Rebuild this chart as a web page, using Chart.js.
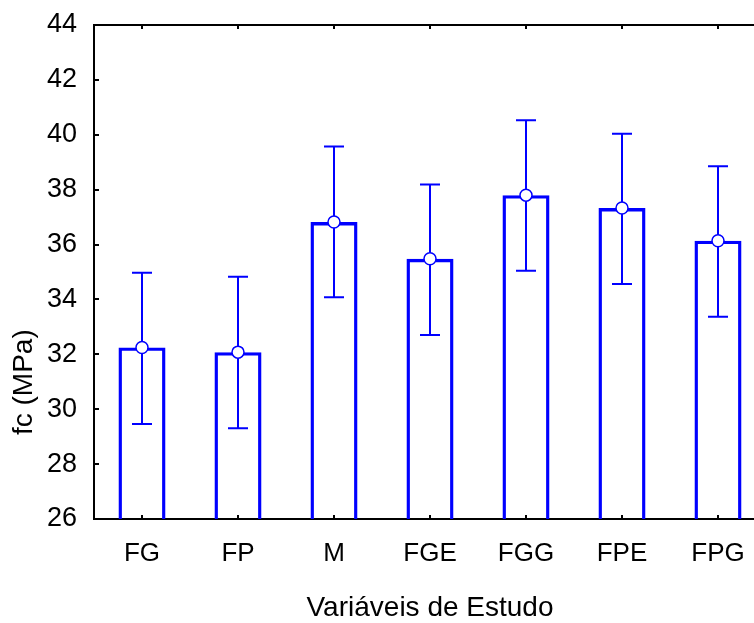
<!DOCTYPE html>
<html>
<head>
<meta charset="utf-8">
<script src="https://cdn.jsdelivr.net/npm/chart.js@4/dist/chart.umd.min.js"></script>
<style>
  html, body { margin: 0; padding: 0; background: #fff; overflow: hidden; width: 754px; height: 623px; }
  canvas { display: block; }
</style>
</head>
<body>
<canvas id="chart" width="790" height="623"></canvas>
<script>
// Chart data
const categories = ['FG', 'FP', 'M', 'FGE', 'FGG', 'FPE', 'FPG'];
const means = [32.25, 32.08, 36.82, 35.48, 37.8, 37.33, 36.14];
const upper = [34.97, 34.83, 39.57, 38.19, 40.53, 40.04, 38.85];
const lower = [29.46, 29.31, 34.08, 32.70, 35.05, 34.56, 33.37];
const yTicks = [26, 28, 30, 32, 34, 36, 38, 40, 42, 44];

const BLUE = '#0000ff';
const FONT = "'Liberation Sans', Arial, sans-serif";

// whiskers, drawn right after the bars so the circles sit on top
const errorBars = {
    id: 'errorBars',
    afterDatasetDraw(chart, args) {
        if (args.meta.type !== 'bar') return;
        const { ctx, scales: { x, y } } = chart;
        ctx.save();
        ctx.strokeStyle = BLUE;
        ctx.lineWidth = 2;
        categories.forEach((c, i) => {
            const px = x.getPixelForValue(i);
            const top = y.getPixelForValue(upper[i]);
            const bot = y.getPixelForValue(lower[i]);
            ctx.beginPath();
            ctx.moveTo(px, top); ctx.lineTo(px, bot);
            ctx.moveTo(px - 10, top); ctx.lineTo(px + 10, top);
            ctx.moveTo(px - 10, bot); ctx.lineTo(px + 10, bot);
            ctx.stroke();
        });
        ctx.restore();
    }
};

// y axis title sits below the middle of the axis in the original
const yTitle = {
    id: 'yTitle',
    afterDraw(chart) {
        const { ctx, chartArea } = chart;
        ctx.save();
        ctx.translate(24, chartArea.top + (chartArea.bottom - chartArea.top) * 0.723);
        ctx.rotate(-Math.PI / 2);
        ctx.font = '28px ' + FONT;
        ctx.fillStyle = '#000';
        ctx.textAlign = 'center';
        ctx.textBaseline = 'middle';
        ctx.fillText('fc (MPa)', 0, 0);
        ctx.restore();
    }
};

new Chart(document.getElementById('chart').getContext('2d'), {
    data: {
        labels: categories,
        datasets: [
            {
                type: 'line',
                label: 'mean',
                data: means,
                order: 0,
                showLine: false,
                borderColor: BLUE,
                pointRadius: 6,
                pointBorderWidth: 1.5,
                pointBackgroundColor: '#ffffff',
                pointBorderColor: BLUE,
            },
            {
                type: 'bar',
                label: 'fc',
                data: means,
                order: 1,
                backgroundColor: 'rgba(255,255,255,0)',
                borderColor: BLUE,
                borderWidth: 3.4,
                borderSkipped: false,
                barPercentage: 0.49,
                categoryPercentage: 1,
            }
        ]
    },
    options: {
        responsive: false,
        animation: false,
        layout: { padding: { left: 0, top: 25, right: 24, bottom: 0 } },
        plugins: {
            legend: { display: false },
            tooltip: { enabled: false },
        },
        scales: {
            x: {
                type: 'category',
                position: 'bottom',
                offset: true,
                z: 1,
                grid: { offset: false, drawOnChartArea: false, drawTicks: true, tickLength: -4, lineWidth: 2, color: '#000' },
                border: { color: '#000', width: 2 },
                ticks: { color: '#000', padding: 23, font: { family: FONT, size: 26 } },
                title: { display: true, text: 'Variáveis de Estudo', color: '#000', padding: { top: 0, bottom: -2 }, font: { family: FONT, size: 28 } },
                afterFit(scale) { scale.height = 104; scale.paddingLeft = 0; scale.paddingRight = 0; }
            },
            x2: {
                type: 'category',
                labels: categories,
                position: 'top',
                offset: true,
                grid: { offset: false, drawOnChartArea: false, drawTicks: true, tickLength: -4, lineWidth: 2, color: '#000' },
                border: { color: '#000', width: 2 },
                ticks: { display: false },
                afterFit(scale) { scale.height = 0; scale.paddingLeft = 0; scale.paddingRight = 0; }
            },
            y: {
                min: 26,
                max: 44,
                afterBuildTicks(scale) { scale.ticks = yTicks.map(v => ({ value: v })); },
                grid: { drawOnChartArea: false, drawTicks: true, tickLength: -5, lineWidth: 2, color: '#000' },
                border: { color: '#000', width: 2 },
                ticks: { color: '#000', padding: 22, font: { family: FONT, size: 27 } },
                afterFit(scale) { scale.width = 94; scale.paddingTop = 0; scale.paddingBottom = 0; }
            }
        }
    },
    plugins: [errorBars, yTitle]
});
</script>
</body>
</html>
